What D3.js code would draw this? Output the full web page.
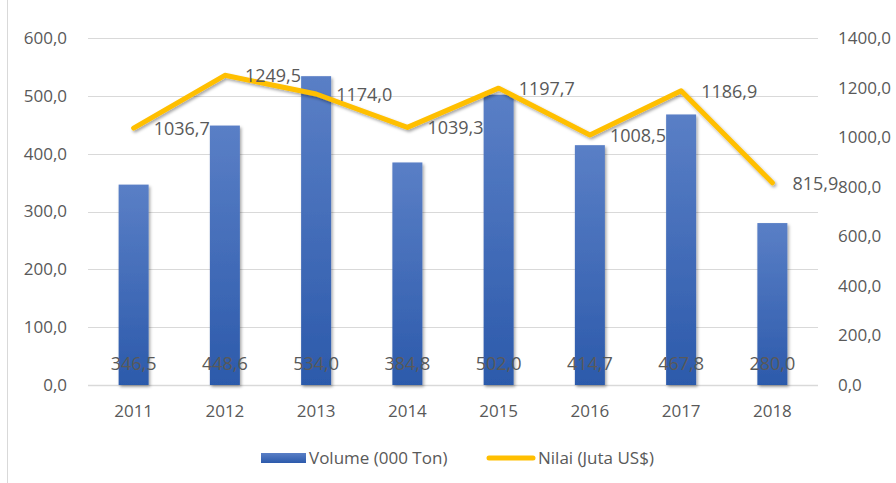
<!DOCTYPE html>
<html>
<head>
<meta charset="utf-8">
<script src="https://cdnjs.cloudflare.com/ajax/libs/d3/7.8.5/d3.min.js"></script>
<style>
  body { margin: 0; background: #fff; }
  svg text { font-family: "Open Sans", "Noto Sans", sans-serif; fill: #595959; }
</style>
</head>
<body>
<svg id="chart" width="896" height="483"></svg>
<script>
const years = ["2011", "2012", "2013", "2014", "2015", "2016", "2017", "2018"];
const volume = [346.5, 448.6, 534.0, 384.8, 502.0, 414.7, 467.8, 280.0];
const nilai = [1036.7, 1249.5, 1174.0, 1039.3, 1197.7, 1008.5, 1186.9, 815.9];
const leftTicks = [0, 100, 200, 300, 400, 500, 600];
const rightTicks = [0, 200, 400, 600, 800, 1000, 1200, 1400];

const plot = { left: 88, right: 818, top: 38, bottom: 385 };
const fmt = v => d3.format(".1f")(v).replace(".", ",");

const svg = d3.select("#chart");
const defs = svg.append("defs");

const grad = defs.append("linearGradient")
    .attr("id", "barGrad").attr("x1", 0).attr("y1", 0).attr("x2", 0).attr("y2", 1);
grad.append("stop").attr("offset", "0%").attr("stop-color", "#5a7fc6");
grad.append("stop").attr("offset", "100%").attr("stop-color", "#2c5aab");

const shadow = defs.append("filter").attr("id", "shadow")
    .attr("x", "-20%").attr("y", "-20%").attr("width", "140%").attr("height", "140%");
shadow.append("feDropShadow")
    .attr("dx", 1.5).attr("dy", 2).attr("stdDeviation", 1.5)
    .attr("flood-color", "#000").attr("flood-opacity", 0.35);

// chart frame edge on the left
svg.append("line")
    .attr("x1", 7.5).attr("x2", 7.5).attr("y1", 0).attr("y2", 483)
    .attr("stroke", "#d9d9d9");

const x = d3.scaleBand().domain(years).range([plot.left, plot.right]);
const yL = d3.scaleLinear().domain([0, 600]).range([plot.bottom, plot.top]);
const yR = d3.scaleLinear().domain([0, 1400]).range([plot.bottom, plot.top]);

// gridlines
svg.append("g").selectAll("line").data(leftTicks).join("line")
    .attr("x1", plot.left).attr("x2", plot.right)
    .attr("y1", d => Math.round(yL(d)) + 0.5).attr("y2", d => Math.round(yL(d)) + 0.5)
    .attr("stroke", "#d9d9d9").attr("stroke-width", d => d === 0 ? 1.5 : 1);

// left axis
const leftAxis = d3.axisLeft(yL).tickValues(leftTicks).tickFormat(fmt).tickSize(0).tickPadding(0);
svg.append("g").attr("transform", "translate(67,0)").call(leftAxis)
    .call(g => g.select(".domain").remove())
    .selectAll("text").attr("font-size", 17).style("fill", "#595959");

// right axis
const rightAxis = d3.axisRight(yR).tickValues(rightTicks).tickFormat(fmt).tickSize(0).tickPadding(0);
svg.append("g").attr("transform", "translate(838,0)").call(rightAxis)
    .call(g => g.select(".domain").remove())
    .selectAll("text").attr("font-size", 17).style("fill", "#595959");

// x axis
const xAxis = d3.axisBottom(x).tickSize(0).tickPadding(0);
svg.append("g").attr("transform", "translate(0,405)").call(xAxis)
    .call(g => g.select(".domain").remove())
    .selectAll("text").attr("font-size", 17).style("fill", "#595959");

// bars
const barW = 30;
svg.append("g").attr("filter", "url(#shadow)").selectAll("rect").data(volume).join("rect")
    .attr("x", (d, i) => x(years[i]) + x.bandwidth() / 2 - barW / 2)
    .attr("width", barW)
    .attr("y", d => yL(d))
    .attr("height", d => plot.bottom - yL(d))
    .attr("fill", "url(#barGrad)");

// bar labels (inside base)
svg.append("g").selectAll("text").data(volume).join("text")
    .attr("x", (d, i) => x(years[i]) + x.bandwidth() / 2)
    .attr("y", 370)
    .attr("text-anchor", "middle")
    .attr("font-size", 18)
    .text(fmt);

// line
const line = d3.line()
    .x((d, i) => x(years[i]) + x.bandwidth() / 2)
    .y(d => yR(d));
svg.append("path").datum(nilai)
    .attr("d", line)
    .attr("fill", "none")
    .attr("stroke", "#ffbf00")
    .attr("stroke-width", 5)
    .attr("stroke-linejoin", "round")
    .attr("stroke-linecap", "round")
    .attr("filter", "url(#shadow)");

// line labels (right of point)
svg.append("g").selectAll("text").data(nilai).join("text")
    .attr("x", (d, i) => x(years[i]) + x.bandwidth() / 2 + 20)
    .attr("y", d => yR(d) + 7)
    .attr("font-size", 18)
    .text(fmt);

// legend
const legend = svg.append("g");
legend.append("rect").attr("x", 261).attr("y", 453).attr("width", 45).attr("height", 10)
    .attr("fill", "url(#barGrad)");
legend.append("text").attr("x", 309).attr("y", 464).attr("font-size", 17).text("Volume (000 Ton)");
legend.append("line").attr("x1", 489).attr("x2", 533).attr("y1", 458).attr("y2", 458)
    .attr("stroke", "#ffbf00").attr("stroke-width", 5).attr("stroke-linecap", "round");
legend.append("text").attr("x", 538).attr("y", 464).attr("font-size", 17).text("Nilai (Juta US$)");
</script>
</body>
</html>
